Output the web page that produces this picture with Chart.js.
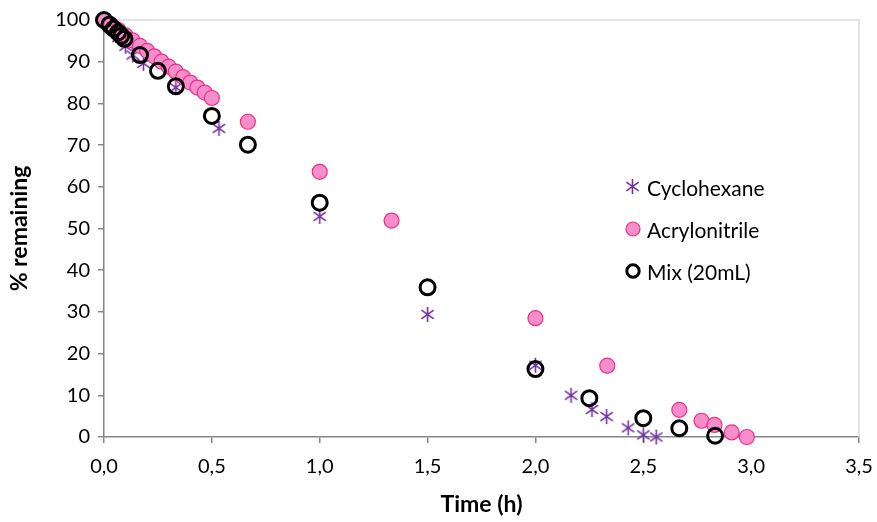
<!DOCTYPE html>
<html>
<head>
<meta charset="utf-8">
<script src="https://cdn.jsdelivr.net/npm/chart.js@4"></script>
<style>
  html, body { margin: 0; padding: 0; background: #fff; }
  #wrap { position: relative; width: 877px; height: 522px; }
  #legend { position: absolute; left: 624px; top: 166px; font-family: Lato, 'Open Sans', sans-serif; font-size: 21px; color: #000; }
  #legend div { display: flex; align-items: center; height: 42px; }
  #legend canvas { margin-right: 5px; }
</style>
</head>
<body>
<div id="wrap">
  <canvas id="decay" width="877" height="522"></canvas>
  <div id="legend"></div>
</div>
<script>
// time (h) and % remaining for each run
const cycloTime = [0, 0.033, 0.067, 0.1, 0.133, 0.183, 0.333, 0.533, 1.0, 1.5, 2.0, 2.165, 2.262, 2.33, 2.43, 2.5, 2.56];
const cycloPct  = [100, 97.9, 95.8, 93.7, 91.6, 89.6, 83.8, 74.0, 52.9, 29.4, 17.2, 10.0, 6.6, 4.9, 2.2, 0.5, 0];

const acryTime = [0, 0.033, 0.067, 0.1, 0.133, 0.167, 0.2, 0.233, 0.267, 0.3, 0.333, 0.367, 0.4, 0.433, 0.467, 0.5,
                  0.667, 1.0, 1.333, 2.0, 2.333, 2.667, 2.77, 2.83, 2.91, 2.98];
const acryPct  = [100, 98.8, 97.6, 96.3, 95.1, 93.8, 92.6, 91.3, 90.0, 88.8, 87.6, 86.3, 85.0, 83.8, 82.6, 81.3,
                  75.6, 63.6, 51.9, 28.5, 17.1, 6.5, 3.9, 2.9, 1.1, 0];

const mixTime = [0, 0.025, 0.045, 0.065, 0.08, 0.095, 0.167, 0.25, 0.333, 0.5, 0.667, 1.0, 1.5, 2.0, 2.25, 2.5, 2.667, 2.833];
const mixPct  = [100, 98.9, 97.9, 97.0, 96.2, 95.5, 91.6, 87.8, 84.1, 77.0, 70.1, 56.2, 35.9, 16.3, 9.3, 4.5, 2.1, 0.3];

const seriesNames = ['Cyclohexane', 'Acrylonitrile', 'Mix (20mL)'];
const xTicks = [0, 0.5, 1, 1.5, 2, 2.5, 3, 3.5];

const FONT = "Lato, 'Open Sans', sans-serif";
const AXIS = '#868686';

// six-armed asterisk marker
function asterisk(size, color) {
  const c = document.createElement('canvas');
  c.width = size; c.height = size;
  const g = c.getContext('2d');
  const r = size / 2 - 1;
  g.strokeStyle = color;
  g.lineWidth = 1.6;
  g.translate(size / 2, size / 2);
  [90, 35, 145].forEach(a => {
    const t = a * Math.PI / 180;
    g.beginPath();
    g.moveTo(-r * Math.cos(t), -r * Math.sin(t));
    g.lineTo(r * Math.cos(t), r * Math.sin(t));
    g.stroke();
  });
  return c;
}

const star = asterisk(17, '#7030a0');

function pts(xs, ys) { return xs.map((x, i) => ({ x: x, y: ys[i] })); }

// light frame around the plot area
const plotFrame = {
  id: 'plotFrame',
  beforeDatasetsDraw(chart) {
    const a = chart.chartArea, ctx = chart.ctx;
    ctx.save();
    ctx.strokeStyle = '#d9d9d9';
    ctx.lineWidth = 1.5;
    ctx.beginPath();
    ctx.moveTo(a.left, a.top);
    ctx.lineTo(a.right, a.top);
    ctx.lineTo(a.right, a.bottom);
    ctx.stroke();
    ctx.restore();
  }
};

const chart = new Chart(document.getElementById('decay'), {
  type: 'scatter',
  data: {
    datasets: [
      { label: seriesNames[0], data: pts(cycloTime, cycloPct), pointStyle: star, pointRadius: 8, order: 3, clip: false },
      { label: seriesNames[1], data: pts(acryTime, acryPct), pointStyle: 'circle', pointRadius: 7.5,
        backgroundColor: '#f78dc9', borderColor: '#ec2e8e', borderWidth: 1.2, order: 2, clip: false },
      { label: seriesNames[2], data: pts(mixTime, mixPct), pointStyle: 'circle', pointRadius: 7.5,
        backgroundColor: 'rgba(0,0,0,0)', borderColor: '#000', borderWidth: 3, order: 1, clip: false }
    ]
  },
  options: {
    responsive: false,
    animation: false,
    layout: { padding: { left: 0, right: 0, top: 19, bottom: 0 } },
    plugins: { legend: { display: false }, tooltip: { enabled: false } },
    scales: {
      x: {
        type: 'linear', min: 0, max: 3.5,
        afterBuildTicks: s => { s.ticks = xTicks.map(v => ({ value: v })); },
        afterFit: s => { s.height = 85; s.paddingRight = 18; s.paddingLeft = 0; },
        grid: { drawOnChartArea: false, tickLength: 6, color: AXIS, lineWidth: 1.5 },
        border: { color: AXIS, width: 1.5 },
        ticks: { color: '#000', font: { family: FONT, size: 20 }, padding: 12,
                 callback: v => v.toFixed(1).replace('.', ',') },
        title: { display: true, text: 'Time (h)', color: '#000', font: { family: FONT, size: 23, weight: 'bold' }, padding: { top: 4 } }
      },
      y: {
        min: 0, max: 100,
        afterFit: s => { s.width = 104; },
        grid: { drawOnChartArea: false, tickLength: 6, color: AXIS, lineWidth: 1.5 },
        border: { color: AXIS, width: 1.5 },
        ticks: { stepSize: 10, color: '#000', font: { family: FONT, size: 20 }, padding: 8 },
        title: { display: true, text: '% remaining', color: '#000', font: { family: FONT, size: 23, weight: 'bold' }, padding: { bottom: 0, top: 6 } }
      }
    }
  },
  plugins: [plotFrame]
});

// legend built from the datasets
const legend = document.getElementById('legend');
chart.data.datasets.forEach((ds, i) => {
  const row = document.createElement('div');
  const m = document.createElement('canvas');
  m.width = 18; m.height = 18;
  const g = m.getContext('2d');
  if (i === 0) {
    g.drawImage(star, 0, 0);
  } else {
    g.beginPath();
    g.arc(9, 9, i === 1 ? 7 : 6.2, 0, Math.PI * 2);
    if (i === 1) { g.fillStyle = ds.backgroundColor; g.fill(); g.lineWidth = 1.2; }
    else { g.lineWidth = 3; }
    g.strokeStyle = ds.borderColor;
    g.stroke();
  }
  row.appendChild(m);
  const t = document.createElement('span');
  t.textContent = ds.label;
  row.appendChild(t);
  legend.appendChild(row);
});
</script>
</body>
</html>
